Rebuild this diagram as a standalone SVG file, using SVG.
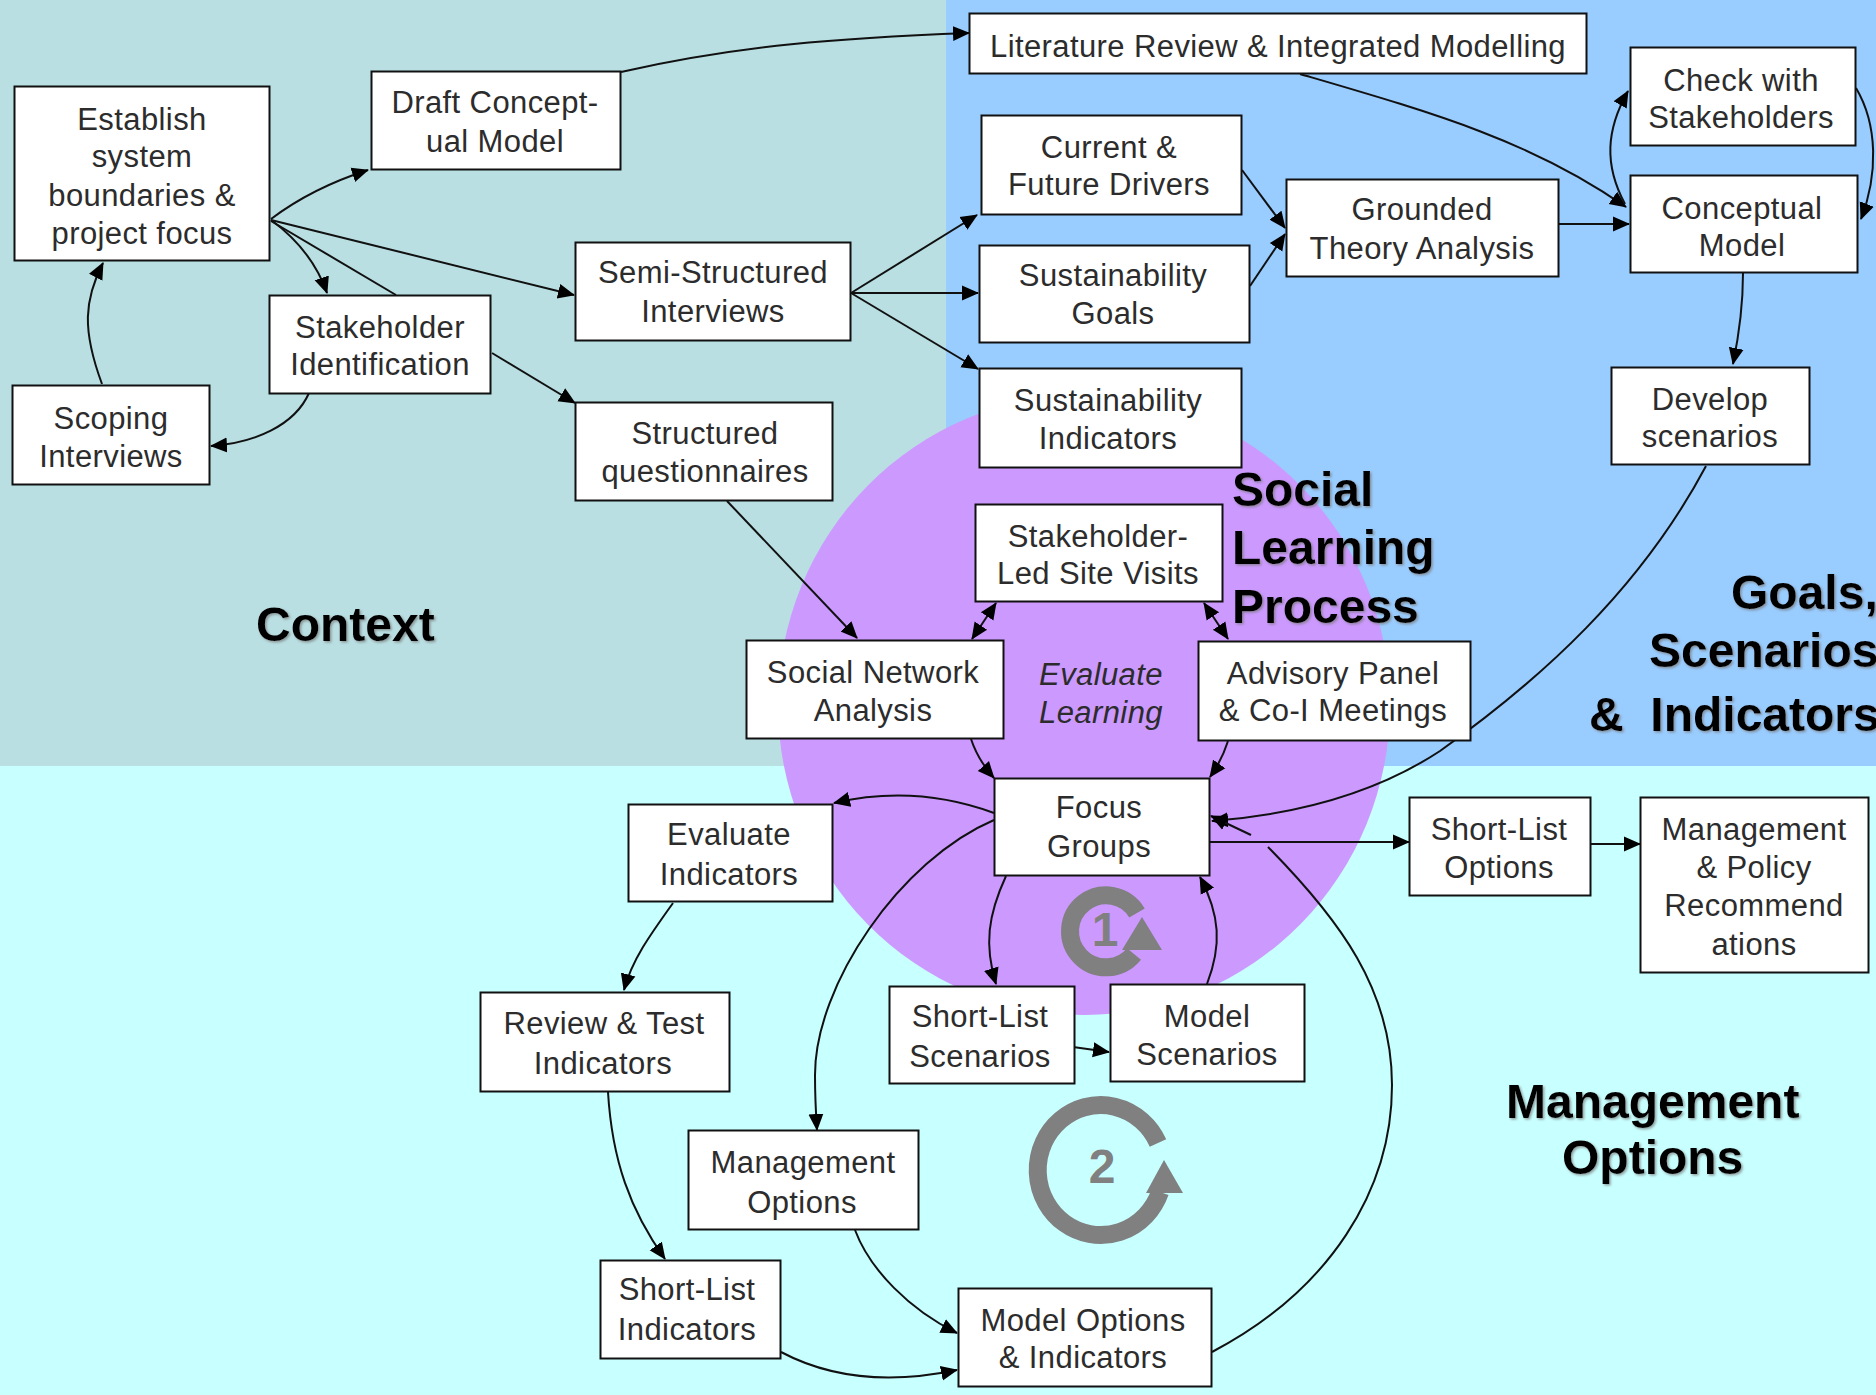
<svg xmlns="http://www.w3.org/2000/svg" width="1876" height="1395" viewBox="0 0 1876 1395">
<style>
.n{fill:#fff;stroke:#111;stroke-width:2}
.t{font-family:"Liberation Sans",Arial,sans-serif;font-size:31px;letter-spacing:.4px;fill:#2c2c2c;text-anchor:middle;transform:translateY(1px)}
.i{font-style:italic}
.h{font-family:"Liberation Sans",Arial,sans-serif;font-size:48px;font-weight:bold;fill:#000;filter:url(#sh);white-space:pre}
.c{fill:none;stroke:#111;stroke-width:2}
.a{marker-end:url(#ar)}
.d{marker-end:url(#ar);marker-start:url(#ar)}
.ring{fill:none;stroke:#808080}
.g{fill:#808080}
.num{font-family:"Liberation Sans",Arial,sans-serif;font-size:48px;font-weight:bold;fill:#808080;text-anchor:middle}
</style>
<defs>
<marker id="ar" markerUnits="userSpaceOnUse" markerWidth="20" markerHeight="18" refX="16" refY="9" orient="auto-start-reverse"><path d="M0 1.500L17 9L0 16.500z" fill="#000"/></marker>
<filter id="sh" x="-5%" y="-10%" width="110%" height="125%"><feDropShadow dx="1.500" dy="1.500" stdDeviation="1" flood-color="#777" flood-opacity="0.7"/></filter>
</defs>
<g id="background">
<rect x="0" y="0" width="946" height="766" fill="#B9DFE2"/>
<rect x="946" y="0" width="930" height="766" fill="#99CCFF"/>
<rect x="0" y="766" width="1876" height="629" fill="#C8FFFF"/>
<ellipse cx="1084" cy="705" rx="306" ry="310" fill="#CC99FF"/>
</g>
<g id="loops">
<path class="ring" stroke-width="18" d="M1137 913A36 36 0 1 0 1134 954"/>
<path class="g" d="M1142 917L1162 950L1122 950z"/>
<text class="num" x="1105" y="946">1</text>
<path class="ring" stroke-width="18" d="M1158 1143A63 65 0 1 0 1160 1192"/>
<path class="g" d="M1164 1160L1183 1193L1146 1193z"/>
<text class="num" x="1102" y="1183">2</text>
</g>
<g id="connectors">
<path class="c a" d="M271 219Q312 188 368 170"/>
<path class="c a" d="M271 220Q312 250 327 293"/>
<path class="c" d="M271 221L396 295"/>
<path class="c a" d="M271 220L574 295"/>
<path class="c a" d="M102 384C82 330 84 300 103 263"/>
<path class="c a" d="M309 393C295 425 255 443 211 446"/>
<path class="c a" d="M492 353L575 403"/>
<path class="c a" d="M727 501L857 638"/>
<path class="c a" d="M621 72C740 45 840 38 969 33"/>
<path class="c a" d="M851 293L977 215"/>
<path class="c a" d="M851 293L978 293"/>
<path class="c a" d="M851 293L978 369"/>
<path class="c a" d="M1300 74C1430 112 1530 140 1626 207"/>
<path class="c a" d="M1242 170L1285 228"/>
<path class="c a" d="M1250 286L1285 234"/>
<path class="c a" d="M1559 224L1629 224"/>
<path class="c a" d="M1625 204C1604 165 1606 130 1628 91"/>
<path class="c a" d="M1856 88C1878 125 1878 175 1861 219"/>
<path class="c a" d="M1743 273C1743 305 1739 335 1733 364"/>
<path class="c a" d="M1706 466C1640 590 1540 680 1440 751C1370 797 1290 815 1212 821"/>
<path class="c a" d="M971 739Q978 760 994 778"/>
<path class="c a" d="M1228 741Q1222 760 1210 777"/>
<path class="c d" d="M996 603L972 639"/>
<path class="c d" d="M1204 603L1228 639"/>
<path class="c a" d="M994 813C945 795 890 790 834 803"/>
<path class="c a" d="M994 820C900 860 815 985 815 1075C815 1100 816 1115 817 1130"/>
<path class="c a" d="M1006 876C988 915 984 945 996 984"/>
<path class="c a" d="M1207 984C1222 945 1220 915 1200 877"/>
<path class="c a" d="M1073 1047L1109 1052"/>
<path class="c a" d="M1207 842L1409 842"/>
<path class="c a" d="M1590 844L1640 844"/>
<path class="c a" d="M673 903C650 935 632 960 624 990"/>
<path class="c a" d="M608 1092C612 1160 630 1210 665 1259"/>
<path class="c a" d="M855 1230C870 1270 910 1310 957 1333"/>
<path class="c a" d="M781 1352C830 1378 890 1384 957 1370"/>
<path class="c" d="M1212 1352C1330 1290 1392 1190 1392 1085C1392 990 1340 920 1268 847"/>
<path class="c a" d="M1251 835L1211 816"/>
</g>
<g id="n1"><rect class="n" x="14.500" y="86.500" width="255" height="174"/><text class="t"><tspan x="142" y="129">Establish</tspan><tspan x="142" y="166">system</tspan><tspan x="142" y="205">boundaries &amp;</tspan><tspan x="142" y="243">project focus</tspan></text></g>
<g id="n2"><rect class="n" x="371.500" y="71.500" width="249" height="98"/><text class="t"><tspan x="495" y="112">Draft Concept-</tspan><tspan x="495" y="151">ual Model</tspan></text></g>
<g id="n3"><rect class="n" x="575.500" y="242.500" width="275" height="98"/><text class="t"><tspan x="713" y="282">Semi-Structured</tspan><tspan x="713" y="321">Interviews</tspan></text></g>
<g id="n4"><rect class="n" x="269.500" y="295.500" width="221" height="98"/><text class="t"><tspan x="380" y="337">Stakeholder</tspan><tspan x="380" y="374">Identification</tspan></text></g>
<g id="n5"><rect class="n" x="12.500" y="385.500" width="197" height="99"/><text class="t"><tspan x="111" y="428">Scoping</tspan><tspan x="111" y="466">Interviews</tspan></text></g>
<g id="n6"><rect class="n" x="575.500" y="402.500" width="257" height="98"/><text class="t"><tspan x="705" y="443">Structured</tspan><tspan x="705" y="481">questionnaires</tspan></text></g>
<g id="n7"><rect class="n" x="746.500" y="640.500" width="257" height="98"/><text class="t"><tspan x="873" y="682">Social Network</tspan><tspan x="873" y="720">Analysis</tspan></text></g>
<g id="n8"><rect class="n" x="969.500" y="13.500" width="617" height="60"/><text class="t"><tspan x="1278" y="56">Literature Review &amp; Integrated Modelling</tspan></text></g>
<g id="n9"><rect class="n" x="981.500" y="115.500" width="260" height="99"/><text class="t"><tspan x="1109" y="157">Current &amp;</tspan><tspan x="1109" y="194">Future Drivers</tspan></text></g>
<g id="n10"><rect class="n" x="979.500" y="245.500" width="270" height="97"/><text class="t"><tspan x="1113" y="285">Sustainability</tspan><tspan x="1113" y="323">Goals</tspan></text></g>
<g id="n11"><rect class="n" x="979.500" y="368.500" width="262" height="99"/><text class="t"><tspan x="1108" y="410">Sustainability</tspan><tspan x="1108" y="448">Indicators</tspan></text></g>
<g id="n12"><rect class="n" x="975.500" y="504.500" width="247" height="97"/><text class="t"><tspan x="1098" y="546">Stakeholder-</tspan><tspan x="1098" y="583">Led Site Visits</tspan></text></g>
<g id="n13"><rect class="n" x="1198.500" y="641.500" width="272" height="99"/><text class="t"><tspan x="1333" y="683">Advisory Panel</tspan><tspan x="1333" y="720">&amp; Co-I Meetings</tspan></text></g>
<g id="n14"><rect class="n" x="1286.500" y="179.500" width="272" height="97"/><text class="t"><tspan x="1422" y="219">Grounded</tspan><tspan x="1422" y="258">Theory Analysis</tspan></text></g>
<g id="n15"><rect class="n" x="1630.500" y="47.500" width="225" height="98"/><text class="t"><tspan x="1741" y="90">Check with</tspan><tspan x="1741" y="127">Stakeholders</tspan></text></g>
<g id="n16"><rect class="n" x="1630.500" y="175.500" width="227" height="97"/><text class="t"><tspan x="1742" y="218">Conceptual</tspan><tspan x="1742" y="255">Model</tspan></text></g>
<g id="n17"><rect class="n" x="1611.500" y="367.500" width="198" height="97"/><text class="t"><tspan x="1710" y="409">Develop</tspan><tspan x="1710" y="446">scenarios</tspan></text></g>
<g id="n18"><rect class="n" x="994.500" y="778.500" width="215" height="97"/><text class="t"><tspan x="1099" y="817">Focus</tspan><tspan x="1099" y="856">Groups</tspan></text></g>
<g id="n19"><rect class="n" x="628.500" y="804.500" width="204" height="97"/><text class="t"><tspan x="729" y="844">Evaluate</tspan><tspan x="729" y="884">Indicators</tspan></text></g>
<g id="n20"><rect class="n" x="480.500" y="992.500" width="249" height="99"/><text class="t"><tspan x="604" y="1033">Review &amp; Test</tspan><tspan x="603" y="1073">Indicators</tspan></text></g>
<g id="n21"><rect class="n" x="688.500" y="1130.500" width="230" height="99"/><text class="t"><tspan x="803" y="1172">Management</tspan><tspan x="802" y="1212">Options</tspan></text></g>
<g id="n22"><rect class="n" x="600.500" y="1260.500" width="180" height="98"/><text class="t"><tspan x="687" y="1299">Short-List</tspan><tspan x="687" y="1339">Indicators</tspan></text></g>
<g id="n23"><rect class="n" x="958.500" y="1288.500" width="253" height="98"/><text class="t"><tspan x="1083" y="1330">Model Options</tspan><tspan x="1083" y="1367">&amp; Indicators</tspan></text></g>
<g id="n24"><rect class="n" x="889.500" y="986.500" width="185" height="97"/><text class="t"><tspan x="980" y="1026">Short-List</tspan><tspan x="980" y="1066">Scenarios</tspan></text></g>
<g id="n25"><rect class="n" x="1110.500" y="984.500" width="194" height="97"/><text class="t"><tspan x="1207" y="1026">Model</tspan><tspan x="1207" y="1064">Scenarios</tspan></text></g>
<g id="n26"><rect class="n" x="1409.500" y="797.500" width="181" height="98"/><text class="t"><tspan x="1499" y="839">Short-List</tspan><tspan x="1499" y="877">Options</tspan></text></g>
<g id="n27"><rect class="n" x="1640.500" y="797.500" width="228" height="175"/><text class="t"><tspan x="1754" y="839">Management</tspan><tspan x="1754" y="877">&amp; Policy</tspan><tspan x="1754" y="915">Recommend</tspan><tspan x="1754" y="954">ations</tspan></text></g>
<g id="labels">
<text class="t i"><tspan x="1101" y="684">Evaluate</tspan><tspan x="1101" y="722">Learning</tspan></text>
<text class="h" x="256" y="641">Context</text>
<text class="h" x="1232" y="506">Social</text>
<text class="h" x="1232" y="564">Learning</text>
<text class="h" x="1232" y="623">Process</text>
<text class="h" x="1731" y="609">Goals,</text>
<text class="h" x="1649" y="667">Scenarios</text>
<text class="h" x="1589" y="731">&amp;  Indicators</text>
<text class="h" x="1506" y="1118">Management</text>
<text class="h" x="1562" y="1174">Options</text>
</g>
</svg>
